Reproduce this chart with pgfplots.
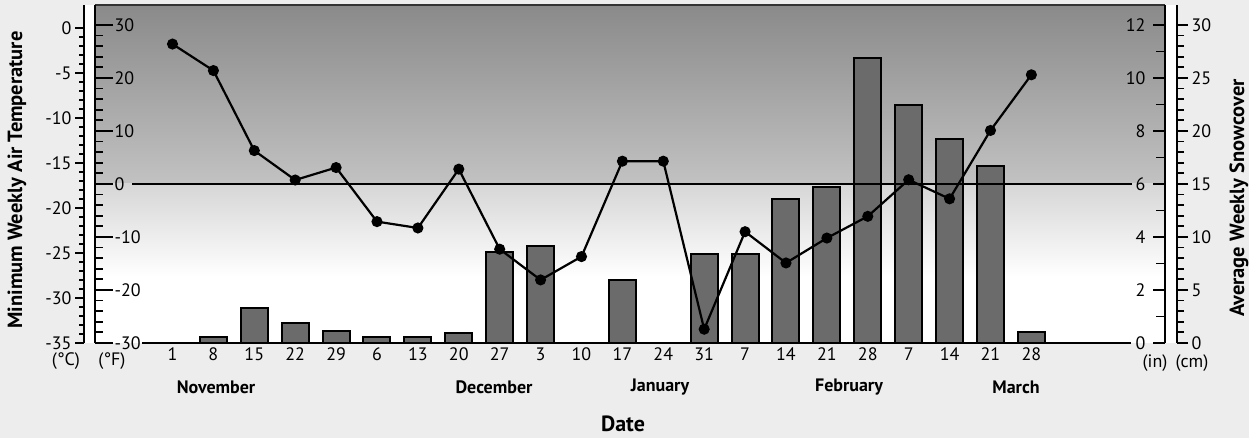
\documentclass[border=0pt]{standalone}
\usepackage{pgfplots}
\pgfplotsset{compat=1.18}
\usepackage{fontspec}
\setmainfont{PT Sans}

\definecolor{pagebg}{HTML}{EDEDED}
\definecolor{topgray}{HTML}{8A8A8A}
\definecolor{midgray}{HTML}{C2C2C2}
\definecolor{lowgray}{HTML}{D6D6D6}
\definecolor{barfill}{HTML}{6B6B6B}

\pgfplotsset{
  base/.style={
    scale only axis, width=1070pt, height=338pt,
    at={(95pt,95pt)}, anchor=south west,
    xmin=-1.895, xmax=24.267,
    /pgf/number format/assume math mode=true,
    tick label style={font=\fontsize{18}{20}\selectfont},
    axis line style={line width=2.4pt},
    major tick style={line width=2pt, black},
    minor tick style={line width=1.8pt, black},
  },
}

\begin{document}
\begin{tikzpicture}[x=1pt,y=1pt]
\path[use as bounding box, fill=pagebg] (0,0) rectangle (1249,438);
\fill[white] (84,95) rectangle (1177,433);

% ---- Snowcover (inches) axis with background and bars
\begin{axis}[base,
  ymin=0, ymax=12.755,
  clip=false, axis on top,
  axis x line=none, axis y line*=right,
  ytick={0,2,...,12}, minor ytick={1,3,...,11},
  tick align=inside, major tick length=12pt, minor tick length=9pt,
  yticklabel style={anchor=east, xshift=-16pt},
]
\fill[top color=topgray, bottom color=midgray] (axis cs:-1.895,6) rectangle (axis cs:24.267,12.755);
\fill[top color=lowgray, bottom color=white] (axis cs:-1.895,2.5) rectangle (axis cs:24.267,6);
\draw[line width=1.6pt, black!80] (axis cs:-1.895,12.755) -- (axis cs:24.267,12.755);
\addplot[ybar, bar width=27pt, fill=barfill, draw=black, line width=2pt] coordinates {
  (1,0.24) (2,1.31) (3,0.74) (4,0.45) (5,0.24) (6,0.24) (7,0.37)
  (8,3.42) (9,3.67) (11,2.38) (13,3.36) (14,3.36) (15,5.42) (16,5.9)
  (17,10.74) (18,8.98) (19,7.69) (20,6.69) (21,0.43)
};
\draw[line width=2.2pt] (axis cs:-0.99,6) -- (axis cs:23.46,6);
\draw[line width=2.2pt] (axis cs:-0.75,0) -- (axis cs:23.43,0);
\end{axis}

% ---- Temperature (F) axis with line
\begin{axis}[base,
  ymin=-30, ymax=33.77,
  clip=false,
  axis x line*=bottom, x axis line style={draw=none},
  axis y line*=left,
  xtick={0,...,21},
  xticklabels={1,8,15,22,29,6,13,20,27,3,10,17,24,31,7,14,21,28,7,14,21,28},
  xtick style={draw=none},
  xticklabel style={yshift=-1pt},
  ytick={-30,-20,...,30}, minor y tick num=4,
  tick align=inside, major tick length=18pt, minor tick length=8pt,
  yticklabel style={anchor=west, xshift=16pt},
]
\addplot[black, line width=2.2pt, mark=*, mark size=4.4pt] coordinates {
  (0,26.4) (1,21.4) (2,6.3) (3,0.75) (4,3.1) (5,-7.1) (6,-8.3) (7,2.8)
  (8,-12.3) (9,-18.1) (10,-13.7) (11,4.3) (12,4.3) (13,-27.4) (14,-9.0)
  (15,-14.9) (16,-10.2) (17,-6.1) (18,0.8) (19,-2.8) (20,10.1) (21,20.6)
};
\end{axis}

% ---- Celsius axis
\begin{axis}[scale only axis, width=1pt, height=338pt,
  at={(84pt,95pt)}, anchor=south west,
  ymin=-35, ymax=2.556, xmin=0, xmax=1,
  axis x line=none, axis y line*=left,
  /pgf/number format/assume math mode=true,
  tick label style={font=\fontsize{18}{20}\selectfont},
  axis line style={line width=2.8pt},
  major tick style={line width=2pt, black},
  minor tick style={line width=1.8pt, black},
  ytick={-35,-30,...,0}, minor y tick num=4,
  tick align=outside, major tick length=9pt, minor tick length=5pt,
]
\end{axis}

% ---- cm axis
\begin{axis}[scale only axis, width=1pt, height=338pt,
  at={(1176pt,95pt)}, anchor=south west,
  ymin=0, ymax=31.887, xmin=0, xmax=1,
  axis x line=none, axis y line*=right,
  /pgf/number format/assume math mode=true,
  tick label style={font=\fontsize{18}{20}\selectfont},
  axis line style={line width=2.8pt},
  major tick style={line width=2pt, black},
  minor tick style={line width=1.8pt, black},
  ytick={0,5,...,30}, minor y tick num=4,
  tick align=outside, major tick length=11pt, minor tick length=7pt,
]
\end{axis}

% ---- labels
\begin{scope}[every node/.style={font=\fontsize{18}{20}\selectfont}]
\node at (66,77) {(°C)};
\node at (112,77) {(°F)};
\node at (1155,75) {(in)};
\node at (1192,75) {(cm)};
\end{scope}
\begin{scope}[every node/.style={font=\fontsize{18}{20}\selectfont\bfseries}]
\node at (216,51) {November};
\node at (494,51) {December};
\node at (660,51) {January};
\node at (849,51) {February};
\node at (1016,51) {March};
\end{scope}
\node[rotate=90, font=\fontsize{20.5}{22}\selectfont\bfseries] at (17,258) {Minimum Weekly Air Temperature};
\node[rotate=90, font=\fontsize{20.5}{22}\selectfont\bfseries] at (1239,240) {Average Weekly Snowcover};
\node[font=\fontsize{22}{24}\selectfont\bfseries] at (623,14) {Date};
\end{tikzpicture}
\end{document}
